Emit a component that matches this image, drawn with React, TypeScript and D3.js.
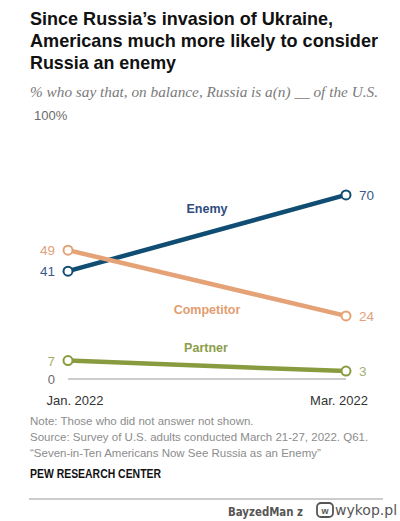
import React from "react";
import * as d3 from "d3";

const periods = ["Jan. 2022", "Mar. 2022"];
const seriesNames = ["Enemy", "Competitor", "Partner"];
const enemyValues = [41, 70];
const competitorValues = [49, 24];
const partnerValues = [7, 3];
const yTickLabels = ["0", "100%"];

const titleLines = [
  "Since Russia\u2019s invasion of Ukraine,",
  "Americans much more likely to consider",
  "Russia an enemy",
];
const subtitle = "% who say that, on balance, Russia is a(n) __ of the U.S.";
const notes = [
  "Note: Those who did not answer not shown.",
  "Source: Survey of U.S. adults conducted March 21-27, 2022. Q61.",
  "\u201cSeven-in-Ten Americans Now See Russia as an Enemy\u201d",
];

const W = 400;
const H = 521;

export default function App() {
  const x = d3.scalePoint<string>().domain(periods).range([68, 346]);
  const y = d3.scaleLinear().domain([0, 100]).range([379, 116]);

  const series = [
    { name: seriesNames[0], values: enemyValues, line: "#0f4d72", label: "#2f4c80", val: "#3b5a8e", lx: 207, ly: 213 },
    { name: seriesNames[1], values: competitorValues, line: "#e4a276", label: "#e39c6f", val: "#e3a07a", lx: 207, ly: 314 },
    { name: seriesNames[2], values: partnerValues, line: "#889b3e", label: "#8b9e49", val: "#a5b06f", lx: 206, ly: 352 },
  ];

  const lineGen = d3
    .line<number>()
    .x((_, i) => x(periods[i]) as number)
    .y((d) => y(d));

  const sans = "'Liberation Sans', Arial, sans-serif";
  const titleWidths = [303, 348, 146];

  return (
    <svg
      width={W}
      height={H}
      style={{ position: "absolute", left: 0, top: 0, background: "#fff" }}
      fontFamily={sans}
    >
      <rect width={W} height={H} fill="#fff" />
      {titleLines.map((t, i) => (
        <text
          key={i}
          x={30}
          y={25 + i * 22}
          fontSize={19}
          fontWeight="bold"
          fill="#111"
          textLength={titleWidths[i]}
          lengthAdjust="spacingAndGlyphs"
        >
          {t}
        </text>
      ))}
      <text
        x={30}
        y={97}
        fontSize={14}
        fontStyle="italic"
        fontFamily="'Liberation Serif', 'DejaVu Serif', serif"
        fill="#7a7a7a"
        textLength={348}
        lengthAdjust="spacingAndGlyphs"
      >
        {subtitle}
      </text>
      <text x={34} y={120} fontSize={13} fill="#6b6b6b">
        {yTickLabels[1]}
      </text>
      <text x={55} y={y(0) + 5} fontSize={13} fill="#6b6b6b" textAnchor="end">
        {yTickLabels[0]}
      </text>
      <line x1={x(periods[0])} x2={x(periods[1])} y1={y(0)} y2={y(0)} stroke="#9a9a9a" strokeWidth={1.2} />

      {series.map((s) => (
        <g key={s.name}>
          <path d={lineGen(s.values) || ""} fill="none" stroke={s.line} strokeWidth={4.5} />
          {s.values.map((v, i) => (
            <circle
              key={i}
              cx={x(periods[i])}
              cy={y(v)}
              r={4.5}
              fill="#fff"
              stroke={s.line}
              strokeWidth={2}
            />
          ))}
          <text x={55} y={y(s.values[0]) + 5} fontSize={13.5} fill={s.val} textAnchor="end">
            {s.values[0]}
          </text>
          <text x={359} y={y(s.values[1]) + 5} fontSize={13.5} fill={s.val}>
            {s.values[1]}
          </text>
          <text x={s.lx} y={s.ly} fontSize={12.5} fontWeight="bold" fill={s.label} textAnchor="middle">
            {s.name}
          </text>
        </g>
      ))}

      {periods.map((p) => (
        <text
          key={p}
          x={(x(p) as number) + (p === periods[0] ? 7 : -7)}
          y={405}
          fontSize={13}
          fill="#333"
          textAnchor="middle"
        >
          {p}
        </text>
      ))}

      {notes.map((n, i) => (
        <text key={i} x={30} y={425 + i * 16} fontSize={11.5} fill="#8c8c8c">
          {n}
        </text>
      ))}
      <text x={30} y={478} fontSize={12} fontWeight="bold" fill="#111" textLength={131} lengthAdjust="spacingAndGlyphs">
        PEW RESEARCH CENTER
      </text>
      <line x1={29} x2={383} y1={499} y2={499} stroke="#9a9a9a" strokeWidth={1} />

      <text x={228} y={516} fontSize={12} fill="#555" fontFamily="'DejaVu Sans', sans-serif" fontWeight="bold" textLength={75} lengthAdjust="spacingAndGlyphs">
        BayzedMan z
      </text>
      <rect x={317} y={503} width={16} height={14} rx={4} fill="none" stroke="#555" strokeWidth={1.8} />
      <text x={325} y={514} fontSize={9} fontWeight="bold" fill="#555" textAnchor="middle">
        w
      </text>
      <text x={335} y={515} fontSize={14} fill="#555" fontFamily="'DejaVu Sans', sans-serif">
        wykop.pl
      </text>
    </svg>
  );
}
